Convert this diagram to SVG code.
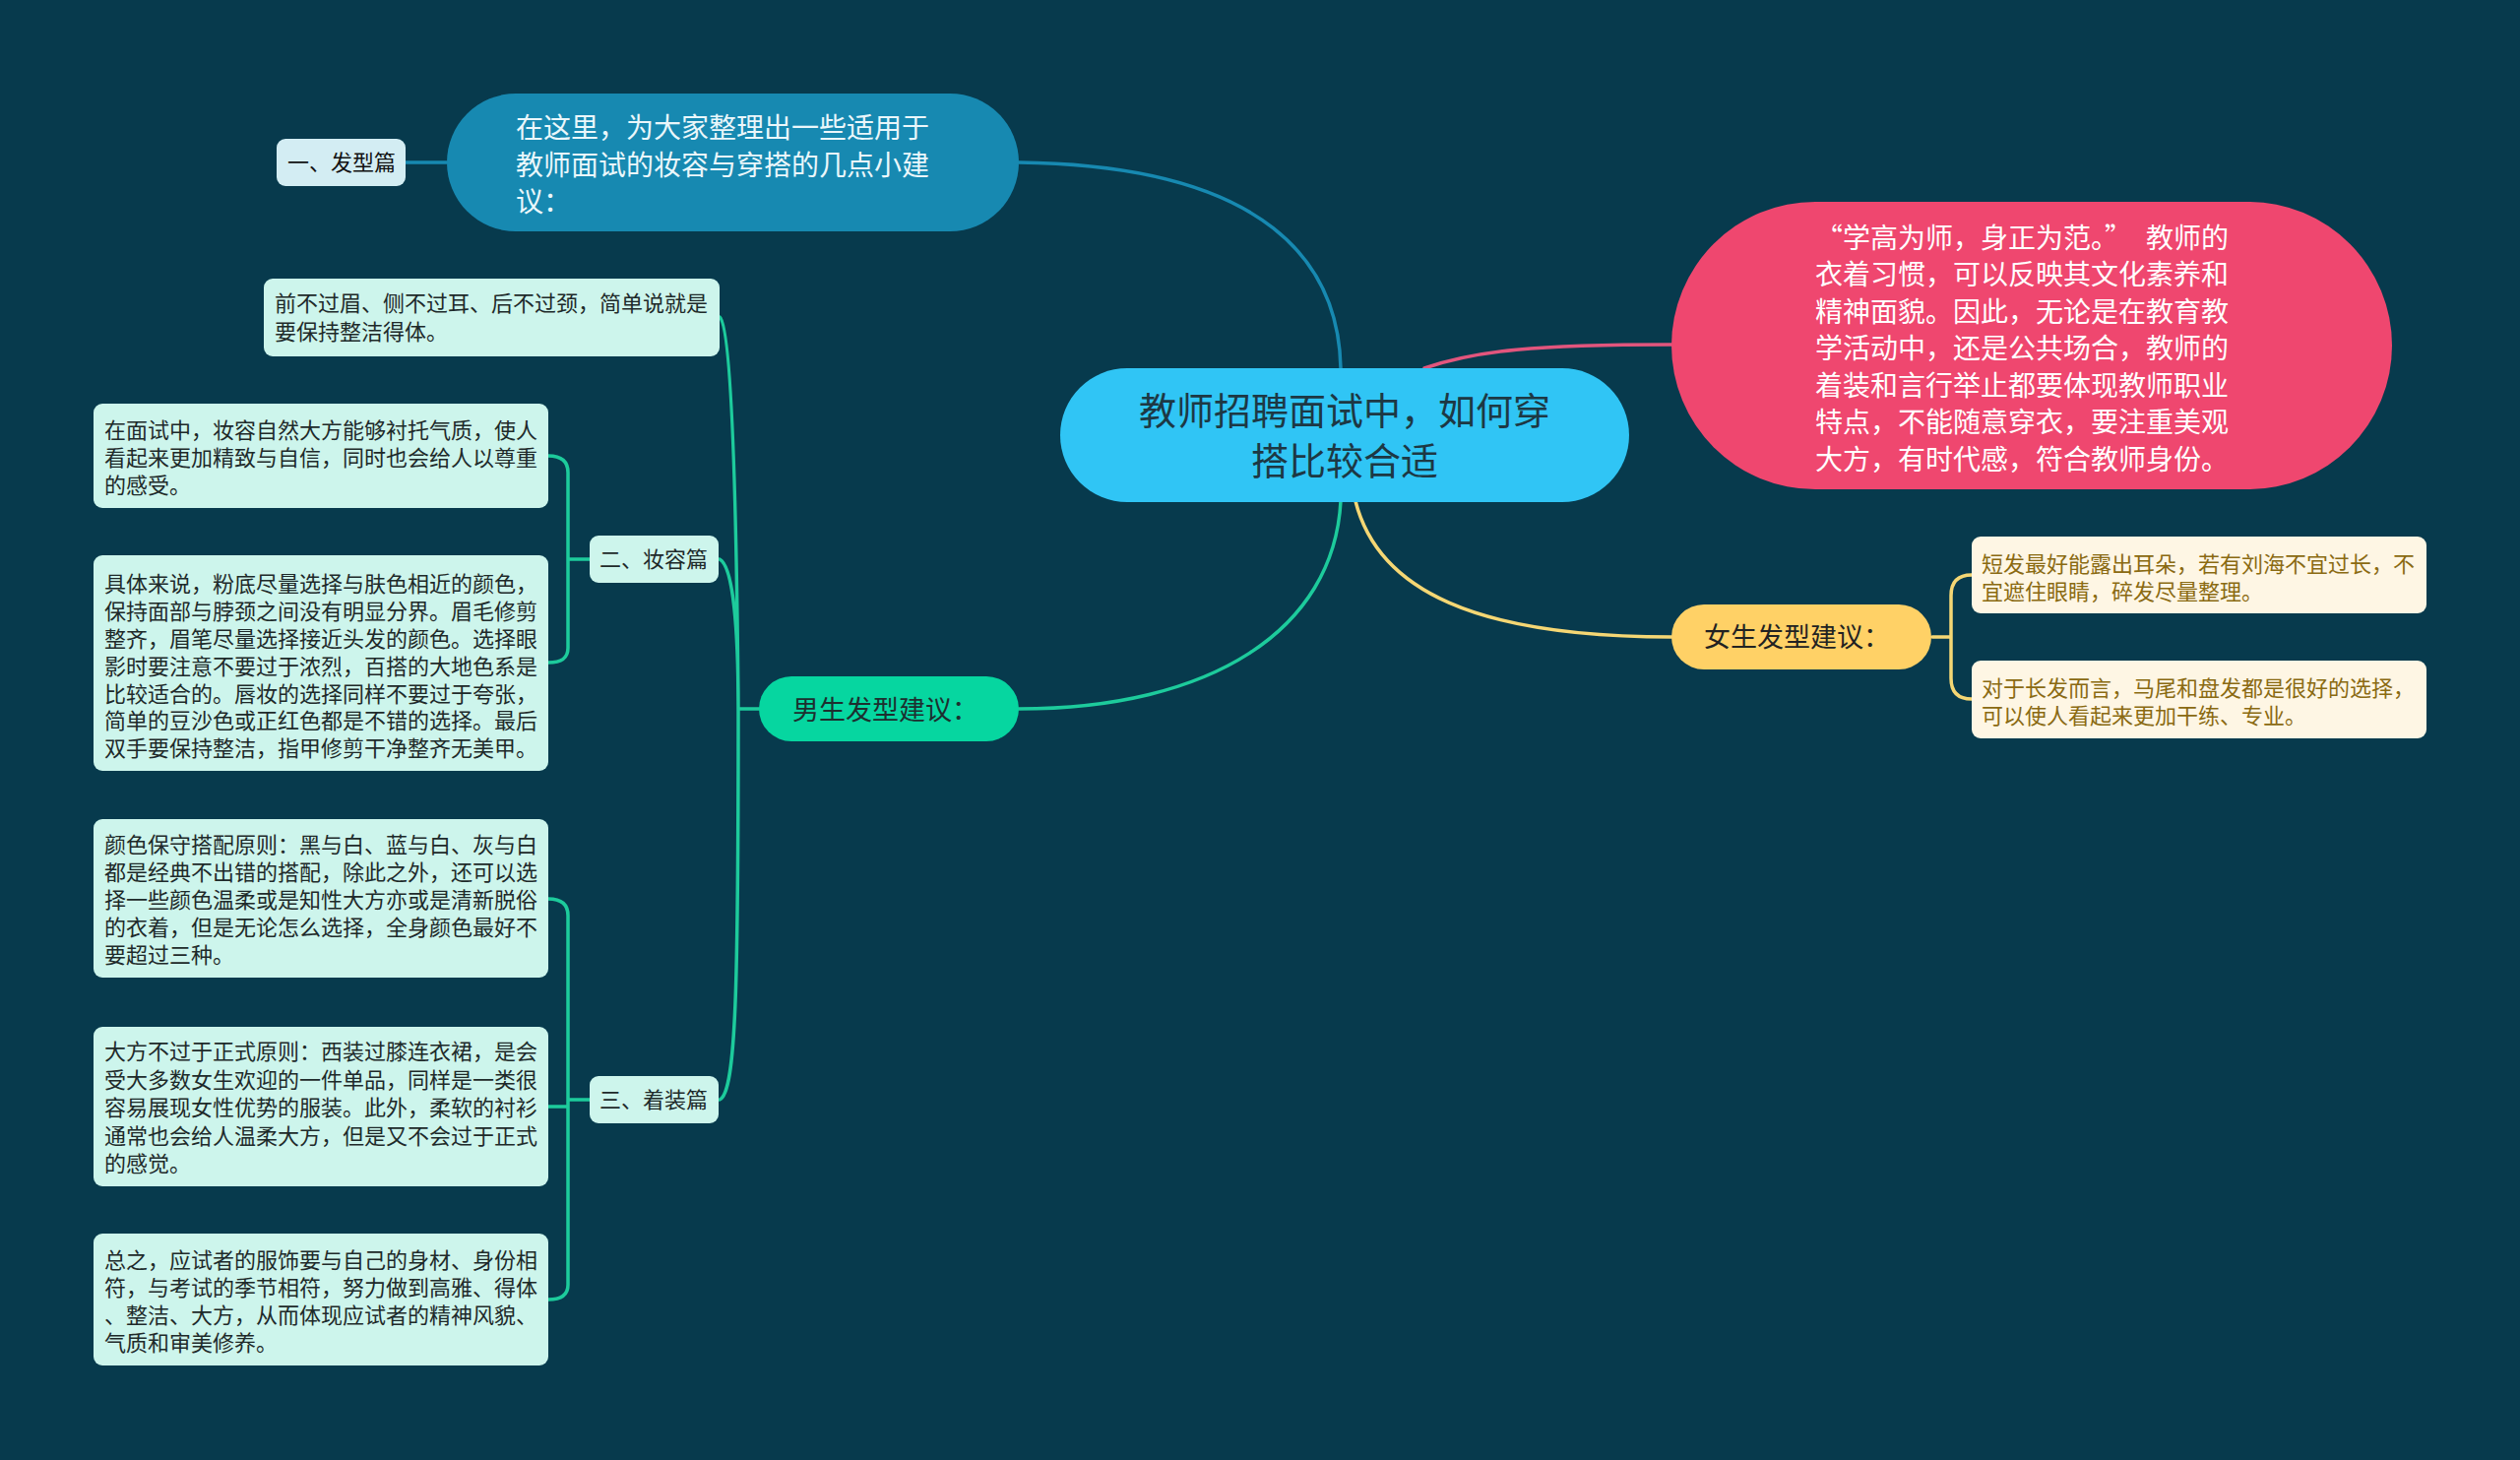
<svg xmlns="http://www.w3.org/2000/svg" width="2560" height="1483" viewBox="0 0 2560 1483">
<defs>
<style>
text{font-family:"Noto Sans CJK SC","Noto Sans",sans-serif;}
.conn{fill:none;stroke-width:3.5;stroke-linecap:round;}
.blue{stroke:#1789b1;}
.pink{stroke:#e2557d;}
.yel{stroke:#f5d774;}
.grn{stroke:#1dcb9c;}
.mint{fill:#cdf5ec;}
.mtxt{font-size:22px;fill:#1e2a2a;}
.cream{fill:#fef6e4;}
.ctxt{font-size:22px;fill:#8a6a12;}
</style>
</defs>
<rect x="0" y="0" width="2560" height="1483" fill="#073a4d"/>

<g id="connectors">
  <path class="conn blue" d="M1362 374 C1360 270 1290 168 1035 165"/>
  <path class="conn blue" d="M412 165 L454 165"/>
  <path class="conn pink" d="M1447 374 C1500 356 1560 350 1698 350"/>
  <path class="conn yel" d="M1377 509 C1400 600 1500 647 1698 647"/>
  <path class="conn grn" d="M1362 509 C1355 640 1230 720 1035 720"/>
  <path class="conn yel" d="M1963 647 L1982 647 M2003 584 C1989 584 1982 591 1982 605 L1982 689 C1982 703 1989 710 2003 710"/>
  <path class="conn grn" d="M771 720 L750 720 M750 720 C748 480 742 330 731 322 M750 720 C750 640 745 575 731 568 M750 720 C750 1000 748 1110 731 1117"/>
  <path class="conn grn" d="M599 568 L577 568 M557 463 C570 463 577 468 577 480 L577 658 C577 669 570 673 557 673"/>
  <path class="conn grn" d="M599 1117 L577 1117 M557 913 C570 913 577 918 577 930 L577 1305 C577 1315 570 1320 557 1320 M557 1124 L577 1124"/>
</g>

<g id="central">
  <rect x="1077" y="374" width="578" height="136" rx="68" fill="#30c5f5"/>
  <text x="1366" y="431" font-size="38" fill="#1d3844" text-anchor="middle">教师招聘面试中，如何穿</text>
  <text x="1366" y="482" font-size="38" fill="#1d3844" text-anchor="middle">搭比较合适</text>
</g>

<g id="intro">
  <rect x="454" y="95" width="581" height="140" rx="70" fill="#1789b1"/>
  <text font-size="28" fill="#eaf7fb"><tspan x="524" y="140">在这里，为大家整理出一些适用于</tspan><tspan x="524" y="178">教师面试的妆容与穿搭的几点小建</tspan><tspan x="524" y="215">议：</tspan></text>
</g>

<g id="hair-title">
  <rect x="281" y="141" width="131" height="48" rx="9" fill="#d3edf3"/>
  <text x="292" y="173" font-size="22" fill="#111">一、发型篇</text>
</g>

<g id="quote">
  <rect x="1698" y="205" width="732" height="292" rx="146" fill="#ef476f"/>
  <text font-size="28" fill="#ffffff"><tspan x="1844" y="252">“学高为师，身正为范。”</tspan><tspan x="2180" y="252">教师的</tspan><tspan x="1844" y="289">衣着习惯，可以反映其文化素养和</tspan><tspan x="1844" y="327">精神面貌。因此，无论是在教育教</tspan><tspan x="1844" y="364">学活动中，还是公共场合，教师的</tspan><tspan x="1844" y="402">着装和言行举止都要体现教师职业</tspan><tspan x="1844" y="439">特点，不能随意穿衣，要注重美观</tspan><tspan x="1844" y="477">大方，有时代感，符合教师身份。</tspan></text>
</g>

<g id="female">
  <rect x="1698" y="614" width="264" height="66" rx="33" fill="#ffd166"/>
  <text x="1731" y="657" font-size="27" fill="#222">女生发型建议：</text>
</g>

<g id="female-short">
  <rect class="cream" x="2003" y="545" width="462" height="78" rx="9"/>
  <text class="ctxt"><tspan x="2013" y="581">短发最好能露出耳朵，若有刘海不宜过长，不</tspan><tspan x="2013" y="609">宜遮住眼睛，碎发尽量整理。</tspan></text>
</g>

<g id="female-long">
  <rect class="cream" x="2003" y="671" width="462" height="79" rx="9"/>
  <text class="ctxt"><tspan x="2013" y="707">对于长发而言，马尾和盘发都是很好的选择，</tspan><tspan x="2013" y="735">可以使人看起来更加干练、专业。</tspan></text>
</g>

<g id="male">
  <rect x="771" y="687" width="264" height="66" rx="33" fill="#06d6a0"/>
  <text x="805" y="731" font-size="27" fill="#1d2f2f">男生发型建议：</text>
</g>

<g id="male-hair">
  <rect class="mint" x="268" y="283" width="463" height="79" rx="9"/>
  <text class="mtxt"><tspan x="279" y="316">前不过眉、侧不过耳、后不过颈，简单说就是</tspan><tspan x="279" y="345">要保持整洁得体。</tspan></text>
</g>

<g id="makeup-title">
  <rect class="mint" x="599" y="544" width="131" height="48" rx="9"/>
  <text x="609" y="576" class="mtxt">二、妆容篇</text>
</g>

<g id="makeup-1">
  <rect class="mint" x="95" y="410" width="462" height="106" rx="9"/>
  <text class="mtxt"><tspan x="106" y="445">在面试中，妆容自然大方能够衬托气质，使人</tspan><tspan x="106" y="473">看起来更加精致与自信，同时也会给人以尊重</tspan><tspan x="106" y="501">的感受。</tspan></text>
</g>

<g id="makeup-2">
  <rect class="mint" x="95" y="564" width="462" height="219" rx="9"/>
  <text class="mtxt"><tspan x="106" y="601">具体来说，粉底尽量选择与肤色相近的颜色，</tspan><tspan x="106" y="629">保持面部与脖颈之间没有明显分界。眉毛修剪</tspan><tspan x="106" y="657">整齐，眉笔尽量选择接近头发的颜色。选择眼</tspan><tspan x="106" y="685">影时要注意不要过于浓烈，百搭的大地色系是</tspan><tspan x="106" y="713">比较适合的。唇妆的选择同样不要过于夸张，</tspan><tspan x="106" y="740">简单的豆沙色或正红色都是不错的选择。最后</tspan><tspan x="106" y="768">双手要保持整洁，指甲修剪干净整齐无美甲。</tspan></text>
</g>

<g id="dress-title">
  <rect class="mint" x="599" y="1093" width="131" height="48" rx="9"/>
  <text x="609" y="1125" class="mtxt">三、着装篇</text>
</g>

<g id="dress-1">
  <rect class="mint" x="95" y="832" width="462" height="161" rx="9"/>
  <text class="mtxt"><tspan x="106" y="866">颜色保守搭配原则：黑与白、蓝与白、灰与白</tspan><tspan x="106" y="894">都是经典不出错的搭配，除此之外，还可以选</tspan><tspan x="106" y="922">择一些颜色温柔或是知性大方亦或是清新脱俗</tspan><tspan x="106" y="950">的衣着，但是无论怎么选择，全身颜色最好不</tspan><tspan x="106" y="978">要超过三种。</tspan></text>
</g>

<g id="dress-2">
  <rect class="mint" x="95" y="1043" width="462" height="162" rx="9"/>
  <text class="mtxt"><tspan x="106" y="1076">大方不过于正式原则：西装过膝连衣裙，是会</tspan><tspan x="106" y="1105">受大多数女生欢迎的一件单品，同样是一类很</tspan><tspan x="106" y="1133">容易展现女性优势的服装。此外，柔软的衬衫</tspan><tspan x="106" y="1162">通常也会给人温柔大方，但是又不会过于正式</tspan><tspan x="106" y="1190">的感觉。</tspan></text>
</g>

<g id="dress-3">
  <rect class="mint" x="95" y="1253" width="462" height="134" rx="9"/>
  <text class="mtxt"><tspan x="106" y="1288">总之，应试者的服饰要与自己的身材、身份相</tspan><tspan x="106" y="1316">符，与考试的季节相符，努力做到高雅、得体</tspan><tspan x="106" y="1344">、整洁、大方，从而体现应试者的精神风貌、</tspan><tspan x="106" y="1372">气质和审美修养。</tspan></text>
</g>
</svg>
